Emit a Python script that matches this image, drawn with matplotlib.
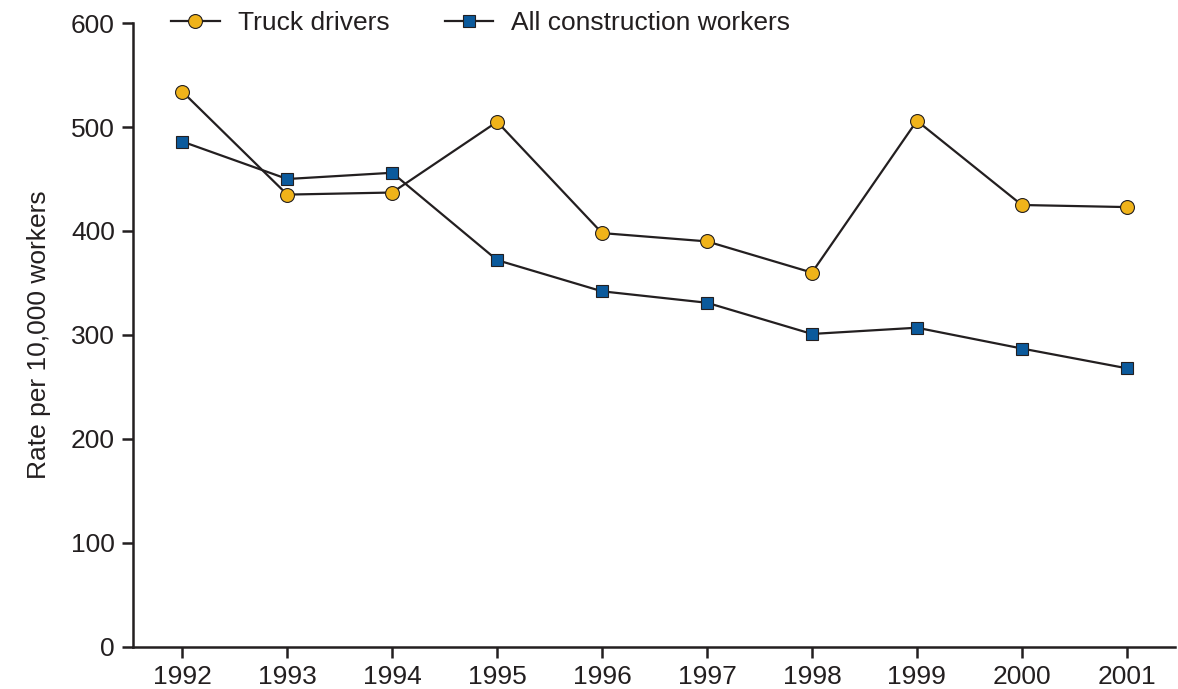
import matplotlib
matplotlib.use("Agg")
import matplotlib.pyplot as plt

years = [1992, 1993, 1994, 1995, 1996, 1997, 1998, 1999, 2000, 2001]
truck_drivers = [534, 435, 437, 505, 398, 390, 360, 506, 425, 423]
construction_all = [486, 450, 456, 372, 342, 331, 301, 307, 287, 268]
y_ticks = [0, 100, 200, 300, 400, 500, 600]

plt.rcParams['font.family'] = ['Liberation Sans', 'DejaVu Sans']
ink = '#231f20'

fig = plt.figure(figsize=(11.78, 6.89), dpi=100)
ax = fig.add_axes([0.1129, 0.061, 0.8846, 0.9056])

ax.plot(years, truck_drivers, color=ink, lw=1.6, marker='o', ms=10,
        mfc='#f0b31a', mec=ink, mew=0.8, label='Truck drivers')
ax.plot(years, construction_all, color=ink, lw=1.6, marker='s', ms=9,
        mfc='#0b5a9c', mec=ink, mew=0.8, label='All construction workers')

ax.set_xlim(1991.53, 2001.46)
ax.set_ylim(0, 600)
ax.set_xticks(years)
ax.set_yticks(y_ticks)

for side in ['top', 'right']:
    ax.spines[side].set_visible(False)
for side in ['left', 'bottom']:
    ax.spines[side].set_linewidth(1.8)
    ax.spines[side].set_color(ink)
ax.tick_params(axis='both', direction='out', length=8, width=1.8,
               color=ink, labelsize=19, labelcolor=ink, pad=5)

ax.set_ylabel('Rate per 10,000 workers', fontsize=19, color=ink, labelpad=14)

ax.legend(loc='center left', bbox_to_anchor=(0.145, 0.966),
          bbox_transform=fig.transFigure, ncol=2, frameon=False,
          fontsize=19, handlelength=1.85, handletextpad=0.68,
          columnspacing=2.1, borderpad=0, borderaxespad=0, labelcolor=ink)

fig.savefig('out.png', dpi=100)
